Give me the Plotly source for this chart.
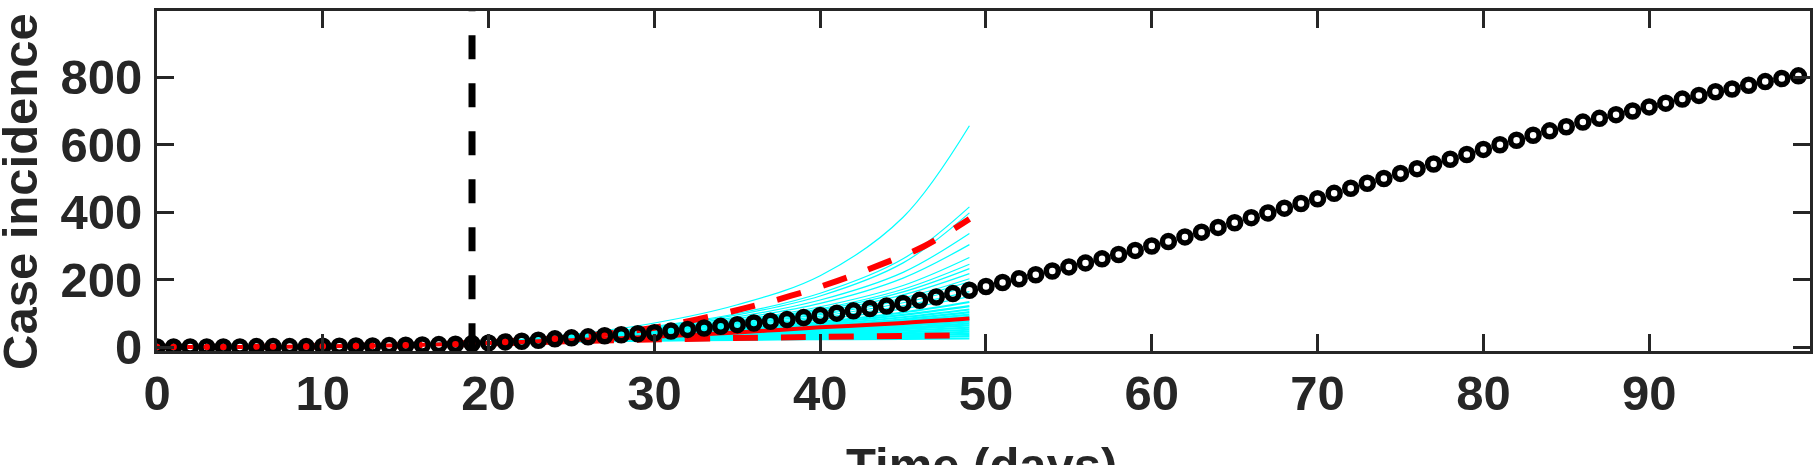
import plotly.graph_objects as go

# ---------------- data ----------------
days = list(range(100))
cases = [1, 1, 1, 1, 1, 1, 2, 2, 2, 2,
         3, 3, 4, 4, 5, 6, 7, 8, 9, 11,
         13, 16, 18, 21, 25, 28, 31, 34, 37, 40,
         43, 48, 53, 57, 62, 67, 72, 77, 82, 88,
         94, 101, 108, 115, 122, 130, 139, 149, 159, 169,
         180, 192, 203, 215, 226, 238, 250, 262, 275, 287,
         300, 313, 327, 341, 355, 369, 384, 398, 412, 426,
         440, 456, 471, 486, 500, 515, 529, 543, 557, 571,
         586, 600, 613, 628, 641, 653, 667, 678, 689, 700,
         712, 723, 735, 746, 757, 765, 776, 787, 796, 804]

ens_days = [0, 10, 19, 25, 30, 35, 40, 45, 49]
ensemble = [
    [1, 3, 11, 17, 20, 22, 24, 25, 26],
    [1, 3, 11, 18, 21, 24, 27, 30, 33],
    [1, 3, 11, 18, 22, 26, 30, 35, 40],
    [1, 3, 11, 19, 23, 28, 33, 40, 46],
    [1, 3, 12, 19, 24, 30, 36, 44, 52],
    [1, 3, 12, 20, 26, 32, 40, 49, 58],
    [1, 3, 12, 21, 27, 34, 43, 54, 65],
    [1, 3, 12, 21, 28, 36, 46, 58, 71],
    [1, 3, 12, 22, 30, 39, 49, 63, 77],
    [1, 3, 12, 23, 31, 41, 53, 68, 84],
    [1, 3, 12, 23, 32, 43, 56, 73, 90],
    [1, 3, 12, 24, 34, 45, 59, 78, 97],
    [1, 3, 13, 25, 35, 48, 63, 83, 104],
    [1, 3, 13, 25, 37, 50, 67, 89, 112],
    [1, 3, 13, 26, 38, 52, 71, 96, 122],
    [1, 3, 13, 27, 40, 55, 75, 103, 134],
    [1, 3, 12, 27, 43, 60, 82, 114, 150],
    [1, 3, 12, 28, 44, 63, 87, 123, 165],
    [1, 3, 12, 28, 46, 66, 92, 132, 180],
    [1, 3, 12, 29, 47, 69, 97, 140, 194],
    [1, 3, 12, 29, 48, 71, 100, 146, 203],
    [1, 3, 13, 30, 49, 73, 105, 155, 218],
    [1, 3, 13, 30, 50, 76, 110, 164, 233],
    [1, 3, 13, 31, 52, 78, 114, 172, 246],
    [1, 3, 13, 31, 53, 80, 120, 183, 266],
    [1, 3, 13, 32, 55, 85, 130, 205, 304],
    [1, 3, 13, 33, 57, 90, 140, 222, 337],
    [1, 3, 13, 34, 60, 96, 152, 250, 398],
    [1, 3, 13, 35, 62, 100, 160, 262, 416],
    [1, 3, 13, 38, 72, 126, 212, 385, 656],
]
dense_count = 16  # first curves form the dense band

median_days = [0, 5, 10, 15, 19, 22, 25, 28, 30, 35, 40, 45, 49]
median_vals = [1, 1, 3, 6, 11, 16, 21, 27, 31, 44, 59, 72, 85]

upper_days = [0, 5, 10, 15, 19, 22, 25, 28, 30, 32.5, 35.4, 38.2, 41, 43.6, 46.3, 49]
upper_vals = [1, 1, 3, 6, 13, 20, 30, 45, 58, 82, 115, 152, 196, 244, 300, 380]

lower_days = [0, 5, 10, 15, 19, 22, 25, 28, 31, 34.5, 37.3, 40, 43, 46, 49]
lower_vals = [1, 1, 3, 6, 10, 14, 18, 21, 24, 27, 29, 31, 32.5, 34, 35.5]

calib_end = 19
vline_y = [0, 1000]

x_ticks = [0, 10, 20, 30, 40, 50, 60, 70, 80, 90]
y_ticks = [0, 200, 400, 600, 800]
x_title = "Time (days)"
y_title = "Case incidence"

# ---------------- figure ----------------
AX = "#262626"
FONT = "Liberation Sans"
FS = 49

fig = go.Figure()

for i, curve in enumerate(ensemble):
    fig.add_trace(go.Scatter(x=ens_days, y=curve, mode="lines",
                             line=dict(color="#00FFFF", width=2.2 if i < dense_count else 1.2,
                                       shape="spline"),
                             showlegend=False, hoverinfo="skip"))

fig.add_trace(go.Scatter(x=median_days, y=median_vals, mode="lines",
                         line=dict(color="#FF0000", width=4, shape="spline"),
                         showlegend=False))
fig.add_trace(go.Scatter(x=upper_days, y=upper_vals, mode="lines",
                         line=dict(color="#FF0000", width=6, dash="25px,23px", shape="spline"),
                         showlegend=False))
fig.add_trace(go.Scatter(x=lower_days, y=lower_vals, mode="lines",
                         line=dict(color="#FF0000", width=6, dash="25px,23px", shape="spline"),
                         showlegend=False))

fig.add_trace(go.Scatter(x=[calib_end, calib_end], y=vline_y, mode="lines",
                         line=dict(color="#000000", width=7, dash="24px,24px"),
                         showlegend=False))

fig.add_trace(go.Scatter(x=days, y=cases, mode="markers",
                         marker=dict(symbol="circle-open", size=12, color="#000000",
                                     line=dict(width=5.5, color="#000000")),
                         showlegend=False))

axis_common = dict(showline=True, linecolor=AX, linewidth=3, mirror="ticks",
                   ticks="inside", ticklen=17, tickwidth=3, tickcolor=AX,
                   showgrid=False, zeroline=False, automargin=False,
                   tickfont=dict(family=FONT, size=FS, color=AX, weight="bold"))

fig.update_xaxes(range=[0, 99.7], tickvals=x_ticks, ticklabelstandoff=-3, **axis_common)
fig.update_yaxes(range=[-11, 996], tickvals=y_ticks, ticklabelstandoff=2, **axis_common)

fig.add_annotation(text=x_title, xref="paper", yref="paper", x=0.4985, y=-0.25,
                   xanchor="center", yanchor="top", showarrow=False,
                   font=dict(family=FONT, size=FS, color=AX, weight="bold"))
fig.add_annotation(text=y_title, xref="paper", yref="paper", x=-0.083, y=0.47,
                   xanchor="center", yanchor="middle", textangle=-90, showarrow=False,
                   font=dict(family=FONT, size=FS, color=AX, weight="bold"))

fig.update_layout(template="none", width=1814, height=465,
                  margin=dict(l=157, r=4, t=11, b=114, pad=0),
                  paper_bgcolor="white", plot_bgcolor="white")

fig.write_html("out.html", config={"displayModeBar": False},
               post_script="document.body.style.margin='0';document.body.style.overflow='hidden';")
